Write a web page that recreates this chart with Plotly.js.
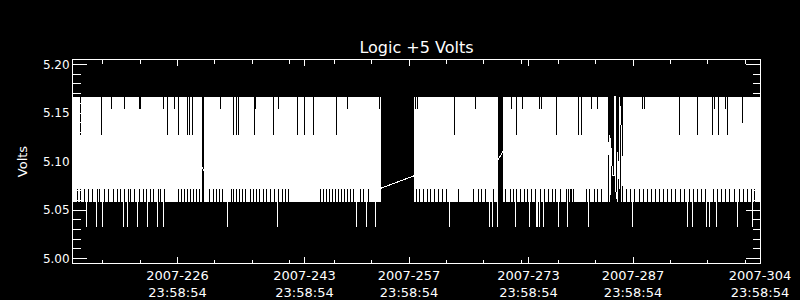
<!DOCTYPE html>
<html><head><meta charset="utf-8">
<script src="https://cdn.plot.ly/plotly-3.0.1.min.js"></script>
<style>html,body{margin:0;padding:0;background:#000;} #chart{width:800px;height:300px;}
#chart .scatterlayer path.js-line{shape-rendering:crispEdges;}</style>
</head><body><div id="chart"></div>
<script>
// ---- axis / tick data (day of year 2007) ----
const axisStartDay = 213, axisEndDay = 305;
const majorTickDays = [226, 243, 257, 273, 287, 304];
const minorTickDays = [216, 221, 231, 236, 241, 247, 252, 262, 267, 272, 277, 282, 292, 297, 302];
const tickTimeOfDay = "23:58:54";
const tickDayFraction = (23 * 3600 + 58 * 60 + 54) / 86400;
const yTickVals = [5.00, 5.05, 5.10, 5.15, 5.20];

// ---- quantised voltage levels ----
const levelHigh = 5.1668, levelLow = 5.0586, levelLowRaised = 5.0716, levelSpike = 5.0321;
const dipShortLevel = 5.1538, dipMidLevel = 5.1393, dipLongLevel = 5.1270;

// sampling bin of the series (days)
const binDays = 92 / 687;

// contiguous stretches of data (first / last bin centre, day of year)
const dataSegments = [[213.07, 230.34], [230.61, 254.18], [258.73, 269.85], [270.65, 284.58], [286.72, 304.94]];

// bins whose minimum drops to the spike level
const spikeDays = [214.77, 216.10, 216.90, 219.71, 220.27, 221.65, 222.99, 224.29, 225.17, 233.65, 240.41, 251.01, 252.34, 253.52,
  263.41, 268.79, 269.19, 269.83, 272.23, 274.14, 275.01, 275.18, 275.41, 275.97, 277.99, 279.19, 282.00, 287.89, 295.24, 295.91,
  297.77, 298.17, 299.11, 301.93, 303.93];

// bins whose minimum stays at the raised low level
const raisedLowDays = [213.63, 214.03, 214.56, 215.10, 215.63, 216.30, 216.57, 217.24, 217.77, 218.44, 218.98, 219.38, 219.91,
  220.45, 220.72, 221.25, 221.92, 222.45, 222.86, 223.39, 223.79, 224.46, 224.73, 225.26, 227.13, 227.54, 227.94, 228.34, 228.74,
  229.14, 229.54, 229.94, 231.28, 231.82, 232.22, 232.62, 233.02, 234.22, 234.49, 234.89, 235.29, 235.69, 236.09, 236.76, 237.16,
  237.57, 237.97, 238.50, 238.90, 239.44, 239.97, 240.51, 241.04, 241.44, 241.84, 246.12, 246.53, 246.93, 247.33, 247.73, 248.13,
  248.53, 248.93, 249.33, 249.73, 250.14, 250.54, 250.94, 251.47, 251.87, 252.54, 258.96, 259.36, 259.90, 260.43, 260.83, 261.37,
  261.90, 262.44, 262.97, 264.58, 266.58, 267.25, 267.65, 268.19, 268.72, 269.26, 270.86, 271.53, 271.93, 272.33, 272.87, 273.40,
  273.81, 274.34, 274.88, 275.54, 276.08, 276.61, 277.15, 277.68, 278.22, 279.02, 279.29, 279.56, 279.82, 280.09, 281.70, 282.23,
  282.77, 283.30, 283.84, 287.18, 287.71, 288.25, 288.92, 289.45, 289.99, 290.52, 291.06, 291.59, 292.13, 292.66, 293.20, 293.73,
  294.40, 294.93, 295.60, 296.14, 296.67, 297.21, 297.74, 298.28, 298.81, 299.35, 299.88, 300.42, 300.95, 301.62, 302.29, 302.82,
  303.36, 303.89, 304.30];

// bins whose maximum drops below the top level
const dipShortDays = [218.22, 219.95, 221.92, 222.05, 225.17, 226.64, 232.79, 237.43, 240.55, 249.77, 254.05, 258.90, 259.10,
  266.89, 271.71, 273.18, 275.45, 275.72, 282.40, 283.21, 289.25, 289.48, 298.84, 300.32];
const dipLongDays = [214.07, 216.88, 225.70, 227.18, 228.27, 228.63, 229.01, 230.34, 234.53, 234.89, 235.20, 237.30, 239.88,
  243.09, 244.02, 245.23, 248.22, 264.08, 272.37, 277.72, 280.67, 281.07, 294.17, 296.58, 298.59, 299.39, 300.59];
const dipMidDays = [302.60];

// samples joined straight across the data gaps
const bridgeDays = [[230.34, 230.61], [254.18, 258.73], [269.85, 270.65]];
const bridgeVolts = [[5.094, 5.089], [5.0723, 5.0854], [5.1008, 5.1111]];

// sparse samples in the broken stretch around day 285
const sparseDays = [284.58, 284.85, 284.85, 284.98, 284.98, 285.25, 285.52, 285.52, 285.65, 285.65, 285.92, 285.92,
  286.19, 286.19, 286.46, 286.46, 286.59, 286.59, 286.72];
const sparseVolts = [5.100, 5.127, 5.0586, 5.0716, 5.124, 5.0856, 5.0856, 5.1668, 5.1668, 5.0716, 5.0586, 5.110,
  5.0716, 5.1668, 5.127, 5.0586, 5.092, 5.106, 5.100];

// ---- build line trace ----
function inBin(list, t) { return list.some(d => Math.abs(d - t) < binDays / 2); }
const xs = [], ys = [];
dataSegments.forEach(([a, b]) => {
  for (let t = a; t <= b + 1e-6; t += binDays) {
    const lo = inBin(spikeDays, t) ? levelSpike : (inBin(raisedLowDays, t) ? levelLowRaised : levelLow);
    const hi = inBin(dipLongDays, t) ? dipLongLevel : (inBin(dipMidDays, t) ? dipMidLevel :
      (inBin(dipShortDays, t) ? dipShortLevel : levelHigh));
    xs.push(t, t, null); ys.push(lo, hi, null);
  }
});
bridgeDays.forEach((pair, i) => { xs.push(pair[0], pair[1], null); ys.push(bridgeVolts[i][0], bridgeVolts[i][1], null); });
sparseDays.forEach((d, i) => { xs.push(d); ys.push(sparseVolts[i]); });

const font = 'DejaVu Sans, sans-serif';
const trace = {
  type: 'scatter', mode: 'lines', x: xs, y: ys, connectgaps: false,
  line: { color: '#ffffff', width: 1, simplify: false }, hoverinfo: 'skip', showlegend: false
};
const layout = {
  width: 800, height: 300,
  margin: { l: 73, r: 40, t: 60, b: 37, pad: 0 },
  paper_bgcolor: '#000000', plot_bgcolor: '#000000',
  title: { text: 'Logic +5 Volts', font: { family: font, size: 16, color: '#ffffff' },
    xref: 'paper', x: 0.5, xanchor: 'center', yref: 'container', y: 1 - 47 / 300, yanchor: 'middle' },
  xaxis: {
    range: [axisStartDay, axisEndDay], showgrid: false, zeroline: false,
    showline: true, linecolor: '#ffffff', linewidth: 1, mirror: 'ticks',
    ticks: 'inside', ticklen: 6, tickwidth: 1, tickcolor: '#ffffff',
    tickmode: 'array', tickvals: majorTickDays.map(d => d + tickDayFraction),
    ticktext: majorTickDays.map(d => '2007-' + d + '<br>' + tickTimeOfDay),
    tickfont: { family: font, size: 13, color: '#ffffff' },
    minor: { tickmode: 'array', tickvals: minorTickDays.map(d => d + tickDayFraction), ticks: 'inside', ticklen: 3.5, tickcolor: '#ffffff', showgrid: false }
  },
  yaxis: {
    range: [4.995361, 5.204639], showgrid: false, zeroline: false,
    showline: true, linecolor: '#ffffff', linewidth: 1, mirror: 'ticks',
    ticks: 'inside', ticklen: 14, tickwidth: 1, tickcolor: '#ffffff',
    tickmode: 'array', tickvals: yTickVals, ticktext: yTickVals.map(v => v.toFixed(2)),
    tickfont: { family: font, size: 12, color: '#ffffff' },
    minor: { tick0: 5.0, dtick: 0.01, ticks: 'inside', ticklen: 7.5, tickcolor: '#ffffff', showgrid: false },
    title: { text: 'Volts', font: { family: font, size: 13, color: '#ffffff' }, standoff: 12 }
  }
};
Plotly.newPlot('chart', [trace], layout, { displayModeBar: false, staticPlot: true });
</script></body></html>
